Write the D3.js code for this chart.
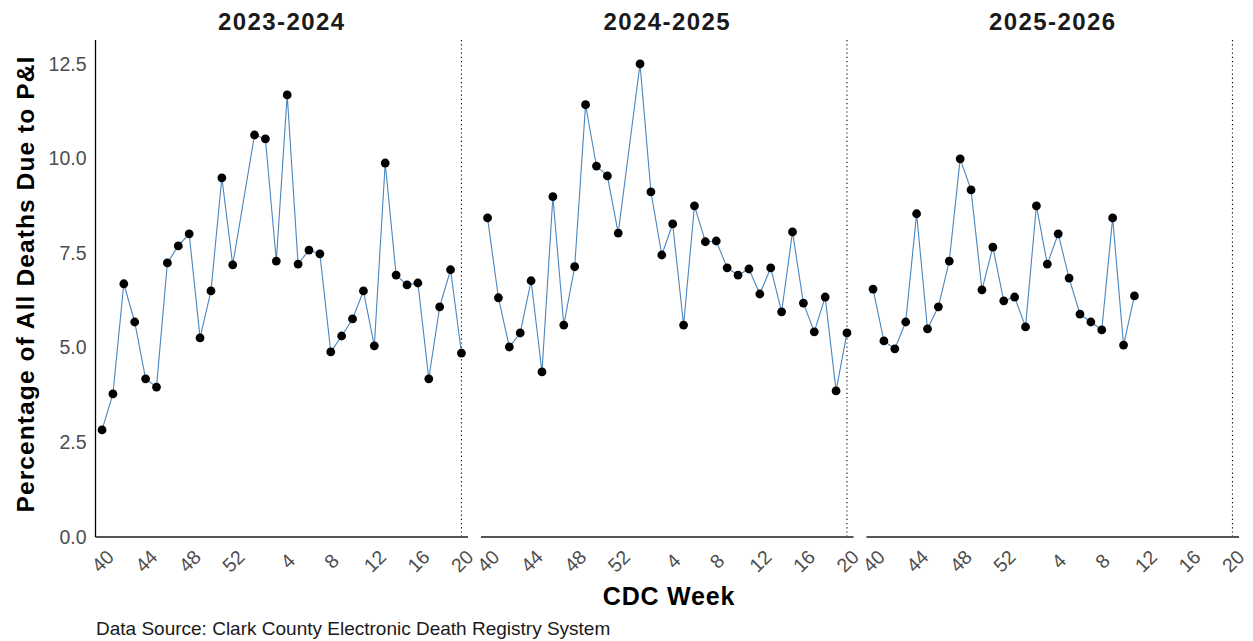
<!DOCTYPE html>
<html>
<head>
<meta charset="utf-8">
<script src="https://cdn.jsdelivr.net/npm/d3@7"></script>
<style>
  html, body { margin: 0; padding: 0; background: #fff; }
  svg { display: block; font-family: "Liberation Sans", Arial, sans-serif; }
</style>
</head>
<body>
<svg id="chart" width="1253" height="641"></svg>
<script>
// CDC weeks on the shared axis (includes week 53)
const weeks = ["40","41","42","43","44","45","46","47","48","49","50","51","52","53",
  "1","2","3","4","5","6","7","8","9","10","11","12","13","14","15","16","17","18","19","20"];
const tickWeeks = ["40","44","48","52","4","8","12","16","20"];
const seasons = ["2023-2024", "2024-2025", "2025-2026"];
const yTicks = [0, 2.5, 5, 7.5, 10, 12.5];

// Percentage of all deaths due to P&I, by week (null = no data)
const s2023 = [2.83,3.78,6.69,5.68,4.18,3.96,7.24,7.69,8.01,5.26,6.50,9.49,7.19,null,
  10.62,10.52,7.29,11.68,7.21,7.58,7.48,4.89,5.31,5.76,6.50,5.05,9.88,6.92,6.66,6.71,4.18,6.08,7.06,4.86];
const s2024 = [8.43,6.32,5.02,5.39,6.77,4.36,8.99,5.60,7.14,11.42,9.80,9.54,8.03,null,
  12.50,9.12,7.45,8.27,5.60,8.75,7.80,7.82,7.11,6.92,7.08,6.42,7.11,5.95,8.06,6.18,5.42,6.34,3.86,5.39];
const s2025 = [6.55,5.18,4.97,5.68,8.54,5.50,6.08,7.29,9.99,9.17,6.53,7.66,6.24,6.34,
  5.55,8.75,7.21,8.01,6.84,5.89,5.68,5.47,8.43,5.07,6.37];

const seriesList = [s2023, s2024, s2025];

const svg = d3.select("#chart");
const plotTop = 40, plotBottom = 537;
const panelW = 372.5, gap = 13, left0 = 95.5;

const y = d3.scaleLinear().domain([0, 13.13]).range([plotBottom, plotTop]);

seasons.forEach((season, p) => {
  const x0 = left0 + p * (panelW + gap);
  const x = d3.scalePoint().domain(weeks).range([x0, x0 + panelW]).padding(0.6);
  const g = svg.append("g");

  // facet title
  g.append("text")
    .attr("x", x0 + panelW / 2).attr("y", 30)
    .attr("text-anchor", "middle")
    .attr("font-size", 24).attr("font-weight", "bold").attr("fill", "#1a1a1a")
    .attr("letter-spacing", 1.4)
    .text(season);

  // dotted vertical line at week 20
  g.append("line")
    .attr("x1", x("20")).attr("x2", x("20"))
    .attr("y1", plotTop).attr("y2", plotBottom)
    .attr("stroke", "#000").attr("stroke-width", 1.1)
    .attr("stroke-dasharray", "1.2,3");

  // x axis
  const xAxis = d3.axisBottom(x).tickValues(tickWeeks).tickSize(0).tickPadding(0);
  const ax = g.append("g").attr("transform", `translate(0,${plotBottom})`).call(xAxis);
  ax.select(".domain").attr("stroke", "#555").attr("stroke-width", 2.2)
    .attr("d", `M${x0},0H${x0 + panelW}`);
  ax.selectAll(".tick text")
    .attr("font-size", 19.5).attr("fill", "#4d4d4d")
    .attr("font-family", "'Liberation Sans', Arial, sans-serif")
    .attr("dy", null).attr("y", 0)
    .attr("text-anchor", "middle").attr("dominant-baseline", "central")
    .attr("transform", "translate(0,24) rotate(-45)");

  // y axis only on first panel
  if (p === 0) {
    const yAxis = d3.axisLeft(y).tickValues(yTicks).tickSize(0).tickPadding(9)
      .tickFormat(d3.format(".1f"));
    const ay = g.append("g").attr("transform", `translate(${x0},0)`).call(yAxis);
    ay.select(".domain").attr("stroke", "#000").attr("stroke-width", 1.3)
      .attr("d", `M0,${plotTop}V${plotBottom}`);
    ay.selectAll(".tick text").attr("font-size", 19.5).attr("fill", "#4d4d4d")
      .attr("font-family", "'Liberation Sans', Arial, sans-serif");
  }

  const data = seriesList[p].map((v, i) => ({ w: weeks[i], v }))
    .filter(d => d.v !== null);

  const line = d3.line().x(d => x(d.w)).y(d => y(d.v));
  g.append("path").datum(data)
    .attr("d", line).attr("fill", "none")
    .attr("stroke", "#4a86be").attr("stroke-width", 1.1);

  g.selectAll("circle").data(data).enter().append("circle")
    .attr("cx", d => x(d.w)).attr("cy", d => y(d.v)).attr("r", 4.4)
    .attr("fill", "#000");
});

// axis titles
svg.append("text")
  .attr("x", 669).attr("y", 605).attr("text-anchor", "middle")
  .attr("font-size", 25).attr("font-weight", "bold").attr("fill", "#000")
  .attr("letter-spacing", 0.8)
  .text("CDC Week");

svg.append("text")
  .attr("transform", "translate(34,284) rotate(-90)")
  .attr("text-anchor", "middle")
  .attr("font-size", 24.5).attr("font-weight", "bold").attr("fill", "#000")
  .attr("letter-spacing", 1.1)
  .text("Percentage of All Deaths Due to P&I");

svg.append("text")
  .attr("x", 96).attr("y", 635)
  .attr("font-size", 19).attr("fill", "#1a1a1a")
  .text("Data Source: Clark County Electronic Death Registry System");
</script>
</body>
</html>
